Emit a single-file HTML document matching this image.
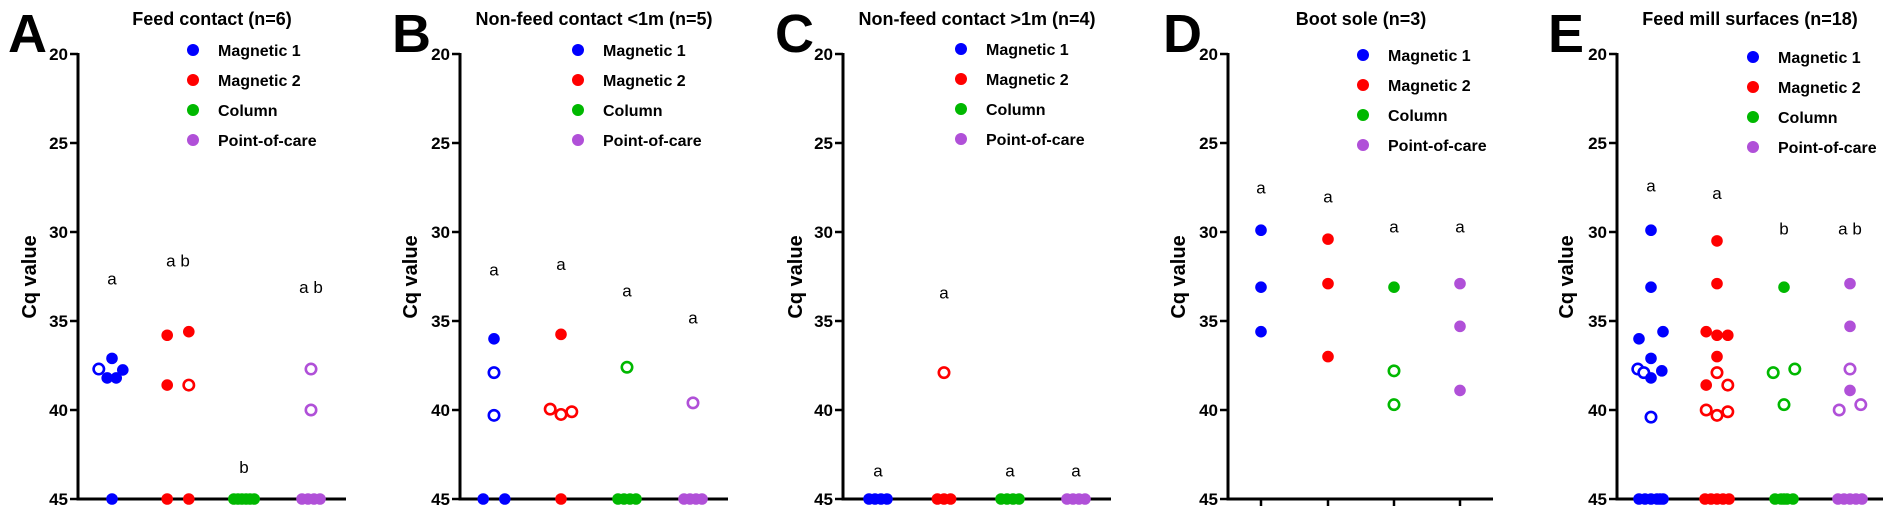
<!DOCTYPE html>
<html><head><meta charset="utf-8"><style>
html,body{margin:0;padding:0;background:#fff;}
svg{display:block;font-family:"Liberation Sans",Arial,sans-serif;}
</style></head><body>
<svg id="chart" width="1902" height="515" viewBox="0 0 1902 515" xmlns="http://www.w3.org/2000/svg"></svg>
<script>
// ---- data ----
const methods = ["Magnetic 1","Magnetic 2","Column","Point-of-care"];
const colors = ["#0000ff","#ff0000","#00b800","#b050d8"];
const yTicks = [20,25,30,35,40,45];
const panelLetters = ["A","B","C","D","E"];
const panelTitles = ["Feed contact (n=6)","Non-feed contact <1m (n=5)","Non-feed contact >1m (n=4)","Boot sole (n=3)","Feed mill surfaces (n=18)"];
// values per group, filled flags (1 filled, 0 open), jitter slots
const aValues = [[37.1,37.7,37.75,38.2,38.2,45],[35.8,35.6,38.6,38.6,45,45],[45,45,45,45,45,45],[37.7,40,45,45,45,45]];
const aFilled = [[1,0,1,1,1,1],[1,1,1,0,1,1],[1,1,1,1,1,1],[0,0,1,1,1,1]];
const aJitter = [[0,-2.2,1.8,-0.8,0.7,0],[-1.8,1.8,-1.8,1.8,-1.8,1.8],[-1.7,-1,-0.35,0.35,1,1.7],[0,0,-1.5,-0.5,0.5,1.5]];
const bValues = [[36.0,37.9,40.3,45,45],[35.75,39.95,40.25,40.1,45],[37.6,45,45,45,45],[39.6,45,45,45,45]];
const bFilled = [[1,0,0,1,1],[1,0,0,0,1],[0,1,1,1,1],[0,1,1,1,1]];
const bJitter = [[0,0,0,-1.8,1.8],[0,-1.8,0,1.8,0],[0,-1.5,-0.5,0.5,1.5],[0,-1.5,-0.5,0.5,1.5]];
const cValues = [[45,45,45,45],[37.9,45,45,45],[45,45,45,45],[45,45,45,45]];
const cFilled = [[1,1,1,1],[0,1,1,1],[1,1,1,1],[1,1,1,1]];
const cJitter = [[-1.5,-0.5,0.5,1.5],[0,-1.1,0,1.1],[-1.5,-0.5,0.5,1.5],[-1.5,-0.5,0.5,1.5]];
const dValues = [[29.9,33.1,35.6],[30.4,32.9,37.0],[33.1,37.8,39.7],[32.9,35.3,38.9]];
const dFilled = [[1,1,1],[1,1,1],[1,0,0],[1,1,1]];
const dJitter = [[0,0,0],[0,0,0],[0,0,0],[0,0,0]];
const eValues = [
 [29.9,33.1,36.0,35.6,37.1,37.7,37.9,38.2,37.8,40.4,45,45,45,45,45,45],
 [30.5,32.9,35.6,35.8,35.8,37.0,37.9,38.6,38.6,40.0,40.3,40.1,45,45,45,45,45],
 [33.1,37.9,37.7,39.7,45,45,45,45,45],
 [32.9,35.3,37.7,38.9,40.0,39.7,45,45,45,45,45]];
const eFilled = [
 [1,1,1,1,1,0,0,1,1,0,1,1,1,1,1,1],
 [1,1,1,1,1,1,0,1,0,0,0,0,1,1,1,1,1],
 [1,0,0,0,1,1,1,1,1],
 [1,1,0,1,0,0,1,1,1,1,1]];
const eJitter = [
 [0,0,-2,2,0,-2.2,-1.2,0,1.8,0,-2,-1,0,1,2,1.5],
 [0,0,-1.8,0,1.8,0,0,-1.8,1.8,-1.8,0,1.8,-2,-1,0,1,2],
 [0,-1.8,1.8,0,-1.5,-0.5,0.5,1.5,0],
 [0,0,0,0,-1.8,1.8,-2,-1,0,1,2]];
const allValues = [aValues,bValues,cValues,dValues,eValues];
const allFilled = [aFilled,bFilled,cFilled,dFilled,eFilled];
const allJitter = [aJitter,bJitter,cJitter,dJitter,eJitter];
const sigLetters = [["a","a b","b","a b"],["a","a","a","a"],["a","a","a","a"],["a","a","a","a"],["a","a","b","a b"]];
const sigValues = [[32.6,31.6,43.2,33.1],[32.1,31.8,33.3,34.8],[43.4,33.4,43.4,43.4],[27.5,28.0,29.7,29.7],[27.4,27.8,29.8,29.8]];

// ---- layout ----
const axisX = [78,460,843,1228,1617];
const axisEnd = [346,728,1111,1493,1883];
const groupX = [[112,178,244,311],[494,561,627,693],[878,944,1010,1076],[1261,1328,1394,1460],[1651,1717,1784,1850]];
const titleX = [212,594,977,1361,1750];
const letterX = [8,392,775,1163,1548];
const ylabX = [29,410,795,1178,1566];
const legDotX = [193,578,961,1363,1753];
const legTop = [50,50,49,55,57];
const Y0 = 54, Y1 = 499;
const y = v => Y0 + (v-20)*(Y1-Y0)/25;
const jitStep = 6;

const svg = document.getElementById('chart');
const NS = 'http://www.w3.org/2000/svg';
function mk(tag, attrs, parent){ const e=document.createElementNS(NS,tag); for(const k in attrs) e.setAttribute(k,attrs[k]); (parent||svg).appendChild(e); return e; }

for(let p=0;p<5;p++){
  const g = mk('g',{});
  
  
  const L = mk('text',{x:letterX[p],y:52,'font-size':54,'font-weight':'bold',fill:'#000'},g);
  L.textContent = panelLetters[p];
  
  
  const T = mk('text',{x:titleX[p],y:25,'font-size':18,'font-weight':'bold','text-anchor':'middle',fill:'#000'},g);
  T.textContent = panelTitles[p];
  
  
  const YL = mk('text',{x:0,y:0,'font-size':20,'font-weight':'bold','text-anchor':'middle',transform:`translate(${ylabX[p]+7},277) rotate(-90)`},g);
  YL.textContent = 'Cq value';
  
  
  // axes
  const ya = mk('line',{x1:axisX[p],y1:Y0-1,x2:axisX[p],y2:Y1+1.5,stroke:'#000','stroke-width':3},g);
  
  
  const xa = mk('line',{x1:axisX[p]-1.5,y1:Y1,x2:axisEnd[p],y2:Y1,stroke:'#000','stroke-width':3},g);
  
  
  yTicks.forEach(t=>{
    const tk = mk('line',{x1:axisX[p]-8,y1:y(t),x2:axisX[p],y2:y(t),stroke:'#000','stroke-width':2.5},g);
    
    
    const tl = mk('text',{x:axisX[p]-10,y:y(t)+6,'font-size':17,'font-weight':'bold','text-anchor':'end'},g);
    tl.textContent = t;
    
    
  });
  if(p===3){
    groupX[p].forEach(gx=>{
      const xt = mk('line',{x1:gx,y1:Y1,x2:gx,y2:Y1+7,stroke:'#000','stroke-width':2.5},g);
      
      
    });
  }
  // legend
  methods.forEach((m,i)=>{
    const cy = legTop[p] + i*30;
    const ld = mk('circle',{cx:legDotX[p],cy:cy,r:6,fill:colors[i]},g);
    
    
    const lt = mk('text',{x:legDotX[p]+25,y:cy+6,'font-size':16,'font-weight':'bold'},g);
    lt.textContent = m;
    
    
  });
  // points
  for(let gi=0;gi<4;gi++){
    const vals = allValues[p][gi], fl = allFilled[p][gi], jt = allJitter[p][gi];
    vals.forEach((v,k)=>{
      const cx = groupX[p][gi] + jt[k]*jitStep;
      let c;
      if(fl[k]) c = mk('circle',{cx:cx,cy:y(v),r:5.8,fill:colors[gi]},g);
      else c = mk('circle',{cx:cx,cy:y(v),r:5.2,fill:'#fff',stroke:colors[gi],'stroke-width':2.6},g);
      
      
    });
    const s = mk('text',{x:groupX[p][gi],y:y(sigValues[p][gi])+6,'font-size':17,'text-anchor':'middle'},g);
    s.textContent = sigLetters[p][gi];
    
    
  }
}
</script>
</body></html>
